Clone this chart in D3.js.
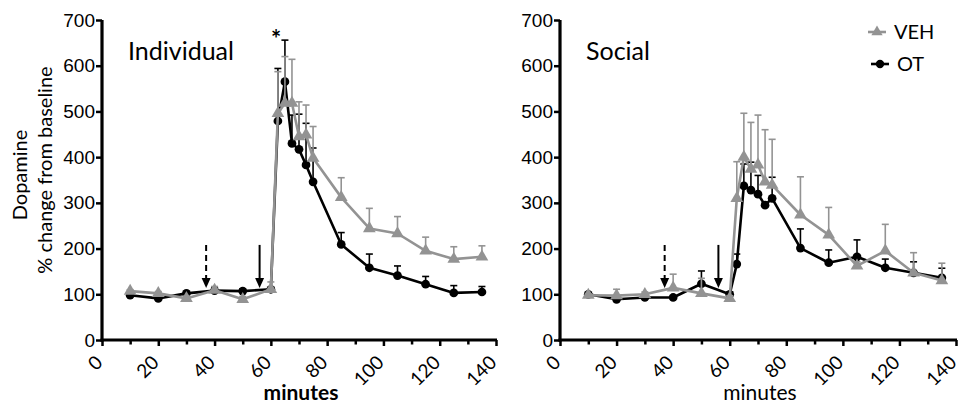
<!DOCTYPE html>
<html>
<head>
<meta charset="utf-8">
<script src="https://cdn.jsdelivr.net/npm/d3@7"></script>
<style>
  body { margin: 0; background: #fff; }
  svg { font-family: Lato, "Open Sans", sans-serif; }
</style>
</head>
<body>
<div id="chart"></div>
<script>
// sampling times (minutes)
const times = [10, 20, 30, 40, 50, 60, 62.5, 65, 67.5, 70, 72.5, 75, 85, 95, 105, 115, 125, 135];

// Individual panel: mean and top of error bar
const indVEH    = [107, 102, 91, 109, 89, 111, 496, 518, 518, 445, 449, 398, 312, 244, 233, 195, 177, 182];
const indVEHtop = [110, 106, 96, 117, 95, 127, 587, 620, 614, 521, 514, 467, 355, 288, 270, 225, 204, 206];
const indOT     = [98, 91, 102, 108, 107, 111, 479, 565, 430, 417, 383, 346, 209, 158, 141, 122, 103, 105];
const indOTtop  = [102, 95, 106, 115, 112, 114, 594, 656, 492, 494, 474, 420, 235, 188, 162, 139, 119, 117];

// Social panel
const socVEH    = [98, 97, 100, 114, 102, 91, 310, 400, 374, 383, 346, 339, 274, 230, 162, 195, 147, 130];
const socVEHtop = [101, 111, 105, 144, 135, 97, 390, 496, 476, 492, 460, 439, 357, 290, 171, 253, 191, 168];
const socOT     = [100, 89, 93, 93, 123, 100, 166, 337, 328, 319, 295, 310, 201, 169, 182, 158, 147, 136];
const socOTtop  = [103, 92, 96, 97, 151, 105, 188, 385, 389, 360, 300, 356, 243, 197, 219, 177, 171, 157];

const yTicks = [0, 100, 200, 300, 400, 500, 600, 700];
const xTicks = d3.range(0, 141, 10);
const xLabels = [0, 20, 40, 60, 80, 100, 120, 140];

// arrows: injection times, dashed = first
const arrowTimes = [37, 56];
const arrowDashed = [true, false];
const arrowFrom = 208, arrowTo = 114;

const grey = '#939393';

const svg = d3.select('#chart').append('svg')
  .attr('width', 960)
  .attr('height', 410);

const y = d3.scaleLinear().domain([0, 700]).range([340, 20]);

function panel(x0, x1, title, titleX, vehMean, vehTop, otMean, otTop, boldLabel) {
  const x = d3.scaleLinear().domain([0, 140]).range([x0, x1]);
  const g = svg.append('g');

  // y axis
  const ya = g.append('g')
    .attr('transform', `translate(${x0},0)`)
    .call(d3.axisLeft(y).tickValues(yTicks).tickSize(6).tickSizeOuter(0).tickPadding(1));
  ya.select('.domain').attr('stroke-width', 3.2).attr('d', `M0,${y(700)}V${y(0) + 1.5}`);
  ya.selectAll('.tick line').attr('stroke-width', 2.5);
  ya.selectAll('.tick text').attr('font-size', 19).attr('fill', '#000');

  // x axis
  const xa = g.append('g')
    .attr('transform', `translate(0,${y(0)})`)
    .call(d3.axisBottom(x).tickValues(xTicks).tickSize(6).tickSizeOuter(0).tickFormat(''));
  xa.select('.domain').attr('stroke-width', 3.2).attr('d', `M${x0 - 1.5},0H${x1 + 1}`);
  xa.selectAll('.tick line')
    .attr('stroke-width', 2.5)
    .attr('y2', d => (d % 20 === 0 ? 6 : 4.5));

  g.selectAll('.xlab')
    .data(xLabels)
    .join('text')
    .attr('class', 'xlab')
    .attr('transform', d => `translate(${x(d) - 3},${y(0) + 19}) rotate(-45)`)
    .attr('text-anchor', 'end')
    .attr('dy', '0.35em')
    .attr('font-size', 19)
    .text(d => d);

  g.append('text')
    .attr('x', (x0 + x1) / 2 + 2)
    .attr('y', 400)
    .attr('text-anchor', 'middle')
    .attr('font-size', 21)
    .attr('font-weight', boldLabel ? 'bold' : 'normal')
    .text('minutes');

  g.append('text')
    .attr('x', titleX)
    .attr('y', 60)
    .attr('font-size', 25)
    .text(title);

  // arrows
  arrowTimes.forEach((t, i) => {
    const ax = x(t);
    g.append('line')
      .attr('x1', ax).attr('x2', ax)
      .attr('y1', y(arrowFrom)).attr('y2', y(arrowTo) - 8)
      .attr('stroke', '#000')
      .attr('stroke-width', 2)
      .attr('stroke-dasharray', arrowDashed[i] ? '6,4' : null);
    g.append('path')
      .attr('d', `M${ax - 4.5},${y(arrowTo) - 10}L${ax + 4.5},${y(arrowTo) - 10}L${ax},${y(arrowTo)}Z`)
      .attr('fill', '#000');
  });

  const line = d3.line().x(d => x(d[0])).y(d => y(d[1]));

  function series(mean, top, color, shape) {
    const pts = times.map((t, i) => [t, mean[i], top[i]]);
    g.append('g').selectAll('line')
      .data(pts)
      .join('line')
      .attr('x1', d => x(d[0])).attr('x2', d => x(d[0]))
      .attr('y1', d => y(d[1])).attr('y2', d => y(d[2]))
      .attr('stroke', color).attr('stroke-width', 1.6);
    g.append('g').selectAll('line')
      .data(pts)
      .join('line')
      .attr('x1', d => x(d[0]) - 3.5).attr('x2', d => x(d[0]) + 3.5)
      .attr('y1', d => y(d[2])).attr('y2', d => y(d[2]))
      .attr('stroke', color).attr('stroke-width', 1.6);
    g.append('path')
      .datum(pts)
      .attr('fill', 'none')
      .attr('stroke', color)
      .attr('stroke-width', 2.6)
      .attr('stroke-linejoin', 'round')
      .attr('d', line);
    g.append('g').selectAll('path')
      .data(pts)
      .join('path')
      .attr('transform', d => `translate(${x(d[0])},${y(d[1])})`)
      .attr('d', d3.symbol().type(shape).size(shape === d3.symbolCircle ? 60 : 70))
      .attr('fill', color);
  }

  series(otMean, otTop, '#000', d3.symbolCircle);
  series(vehMean, vehTop, grey, d3.symbolTriangle);
  return x;
}

panel(102, 496, 'Individual', 128, indVEH, indVEHtop, indOT, indOTtop, true);
panel(560, 956, 'Social', 586, socVEH, socVEHtop, socOT, socOTtop, false);

// significance mark
svg.append('text')
  .attr('x', 276)
  .attr('y', 48)
  .attr('text-anchor', 'middle')
  .attr('font-size', 24)
  .attr('font-weight', 'bold')
  .text('*');

// y axis title
svg.append('text')
  .attr('transform', 'translate(27,175) rotate(-90)')
  .attr('text-anchor', 'middle')
  .attr('font-size', 20)
  .text('Dopamine');
svg.append('text')
  .attr('transform', 'translate(52,170) rotate(-90)')
  .attr('text-anchor', 'middle')
  .attr('font-size', 20)
  .text('% change from baseline');

// legend
const legend = [
  { name: 'VEH', color: grey, shape: d3.symbolTriangle },
  { name: 'OT', color: '#000', shape: d3.symbolCircle }
];
const lg = svg.append('g');
legend.forEach((d, i) => {
  const ly = 32 + i * 32;
  const lx = 868 + i * 3;
  lg.append('line')
    .attr('x1', lx).attr('x2', lx + 18)
    .attr('y1', ly).attr('y2', ly)
    .attr('stroke', d.color).attr('stroke-width', 2.6);
  lg.append('path')
    .attr('transform', `translate(${lx + 9},${ly})`)
    .attr('d', d3.symbol().type(d.shape).size(55))
    .attr('fill', d.color);
  lg.append('text')
    .attr('x', lx + 26)
    .attr('y', ly + 7)
    .attr('font-size', 20)
    .text(d.name);
});
</script>
</body>
</html>
